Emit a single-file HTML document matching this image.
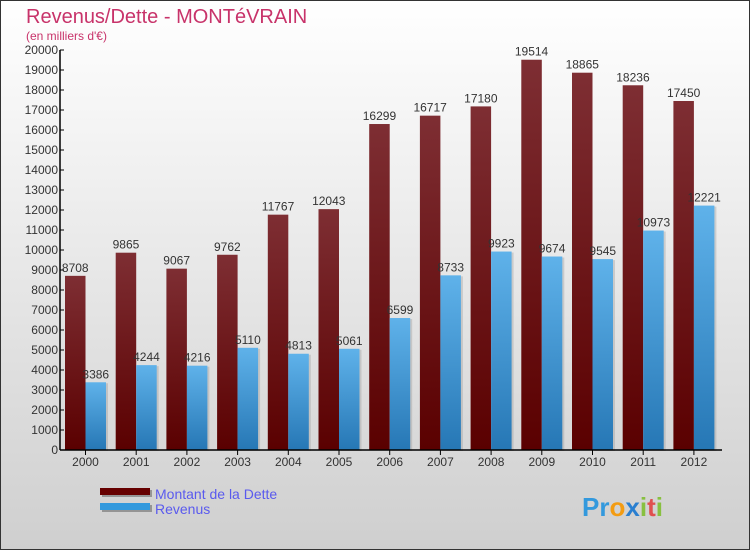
<!DOCTYPE html>
<html><head><meta charset="utf-8"><style>
body{margin:0}
svg{display:block;font-family:"Liberation Sans",sans-serif}
</style></head><body>
<svg width="750" height="550" xmlns="http://www.w3.org/2000/svg">
<defs>
<linearGradient id="bg" x1="0" y1="0" x2="0" y2="1"><stop offset="0" stop-color="#ffffff"/><stop offset="1" stop-color="#cfcfcf"/></linearGradient>
<linearGradient id="gd" x1="0" y1="0" x2="0" y2="1"><stop offset="0" stop-color="#7e2e33"/><stop offset="1" stop-color="#5a0000"/></linearGradient>
<linearGradient id="gr" x1="0" y1="0" x2="0" y2="1"><stop offset="0" stop-color="#5fb2ea"/><stop offset="1" stop-color="#2677b5"/></linearGradient>
</defs>
<rect x="0.5" y="0.5" width="749" height="549" fill="url(#bg)" stroke="#333"/>
<text x="26" y="23" font-size="20" fill="#c8336a">Revenus/Dette - MONTéVRAIN</text>
<text x="26" y="40" font-size="12" fill="#c8336a">(en milliers d'€)</text>
<g id="yaxis"></g>
<g id="bars"></g>
<g id="xaxis"></g>
<g>
<rect x="102" y="490" width="50" height="7" fill="#555" opacity="0.5"/>
<rect x="100" y="488" width="50" height="7" fill="#660000"/>
<text x="155" y="499" font-size="14" fill="#5a5aee">Montant de la Dette</text>
<rect x="102" y="505" width="50" height="7" fill="#555" opacity="0.5"/>
<rect x="100" y="503" width="50" height="7" fill="#3399dd"/>
<text x="155" y="514" font-size="14" fill="#5a5aee">Revenus</text>
</g>
<text x="582" y="516" font-size="26" font-weight="bold"><tspan fill="#3399dd">Pr</tspan><tspan fill="#f39c12">o</tspan><tspan fill="#2a7fd0">x</tspan><tspan fill="#88c040">i</tspan><tspan fill="#e05050">t</tspan><tspan fill="#88c040">i</tspan></text>
</svg>
<script>
const years=["2000","2001","2002","2003","2004","2005","2006","2007","2008","2009","2010","2011","2012"];
const dette=[8708,9865,9067,9762,11767,12043,16299,16717,17180,19514,18865,18236,17450];
const revenus=[3386,4244,4216,5110,4813,5061,6599,8733,9923,9674,9545,10973,12221];
const yTicks=[0,1000,2000,3000,4000,5000,6000,7000,8000,9000,10000,11000,12000,13000,14000,15000,16000,17000,18000,19000,20000];
const NS="http://www.w3.org/2000/svg";
const y=v=>450-v*0.02;
const gx=i=>65+i*50.7;
const bw=20.5;
function mk(tag,attrs,parent){const e=document.createElementNS(NS,tag);for(const k in attrs)e.setAttribute(k,attrs[k]);parent.appendChild(e);return e;}
const ya=document.getElementById('yaxis'),ba=document.getElementById('bars'),xa=document.getElementById('xaxis');
mk('line',{x1:60,y1:50,x2:60,y2:450,stroke:'#000','stroke-width':1.5},ya);
yTicks.forEach(t=>{
 mk('line',{x1:60,y1:y(t),x2:64,y2:y(t),stroke:'#000'},ya);
 const tx=mk('text',{x:58,y:y(t)+4,'font-size':12,'text-anchor':'end',fill:'#333'},ya);
 tx.textContent=t;
 
 
});
mk('line',{x1:60,y1:450,x2:722,y2:450,stroke:'#000','stroke-width':1.5},xa);
years.forEach((yr,i)=>{
 const x0=gx(i);
 mk('rect',{x:x0+bw+2,y:y(revenus[i])+1,width:bw,height:450-y(revenus[i]),fill:'#888',opacity:0.3},ba);
 const d=mk('rect',{x:x0,y:y(dette[i]),width:bw,height:450-y(dette[i]),fill:'url(#gd)'},ba);
 
 
 const r=mk('rect',{x:x0+bw,y:y(revenus[i]),width:bw,height:450-y(revenus[i]),fill:'url(#gr)'},ba);
 
 
 const t1=mk('text',{x:x0+bw/2,y:y(dette[i])-4,'font-size':12,'text-anchor':'middle',fill:'#333'},ba);
 t1.textContent=dette[i];
 
 
 const t2=mk('text',{x:x0+bw*1.5,y:y(revenus[i])-4,'font-size':12,'text-anchor':'middle',fill:'#333'},ba);
 t2.textContent=revenus[i];
 
 
 mk('line',{x1:x0+bw,y1:450,x2:x0+bw,y2:455,stroke:'#000'},xa);
 const xl=mk('text',{x:x0+bw,y:466,'font-size':12,'text-anchor':'middle',fill:'#333'},xa);
 xl.textContent=yr;
 
 
});
</script>
</body></html>
